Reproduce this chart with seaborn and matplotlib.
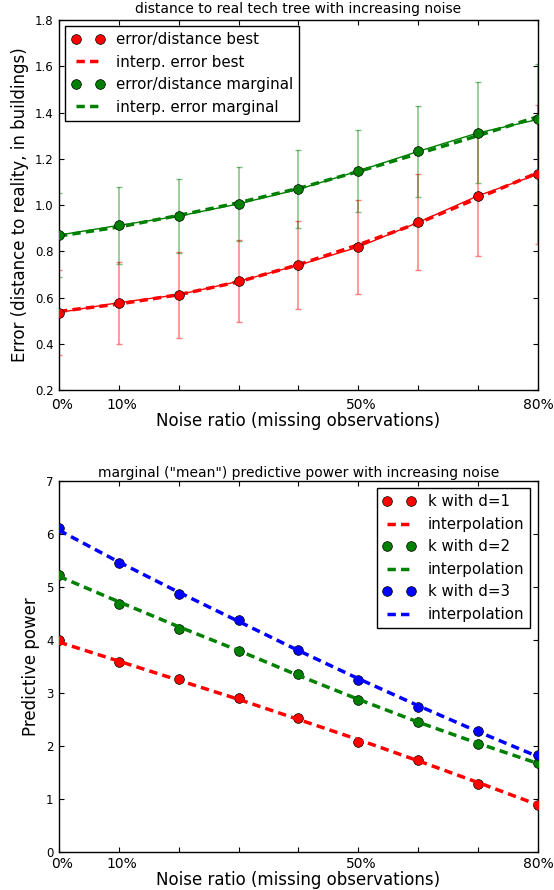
import numpy as np
import pandas as pd
import matplotlib
matplotlib.use("Agg")
import matplotlib.pyplot as plt
import matplotlib.transforms as mtransforms
import seaborn as sns
from matplotlib.lines import Line2D

# ---------------- data ----------------
noise = [0.0, 0.1, 0.2, 0.3, 0.4, 0.5, 0.6, 0.7, 0.8]
xtick_labels = ["0%", "10%", "", "", "", "50%", "", "", "80%"]

best_err = [0.535, 0.578, 0.612, 0.670, 0.740, 0.818, 0.925, 1.040, 1.133]
best_sd = [0.185, 0.177, 0.185, 0.177, 0.190, 0.205, 0.207, 0.260, 0.300]
best_interp = [0.540, 0.572, 0.612, 0.668, 0.742, 0.828, 0.922, 1.030, 1.140]

marg_err = [0.870, 0.912, 0.952, 1.005, 1.068, 1.147, 1.232, 1.312, 1.370]
marg_sd = [0.180, 0.165, 0.160, 0.160, 0.168, 0.178, 0.197, 0.218, 0.240]
marg_interp = [0.866, 0.905, 0.955, 1.010, 1.072, 1.145, 1.222, 1.300, 1.382]

k_d1 = [4.00, 3.58, 3.27, 2.90, 2.52, 2.08, 1.73, 1.29, 0.88]
k_d1_interp = [3.96, 3.60, 3.24, 2.88, 2.50, 2.12, 1.72, 1.31, 0.89]
k_d2 = [5.23, 4.68, 4.21, 3.80, 3.35, 2.86, 2.45, 2.04, 1.68]
k_d2_interp = [5.20, 4.72, 4.25, 3.80, 3.33, 2.88, 2.45, 2.05, 1.67]
k_d3 = [6.12, 5.45, 4.87, 4.37, 3.81, 3.24, 2.73, 2.28, 1.83]
k_d3_interp = [6.07, 5.47, 4.90, 4.35, 3.80, 3.27, 2.76, 2.27, 1.80]

top_title = "distance to real tech tree with increasing noise"
bottom_title = 'marginal ("mean") predictive power with increasing noise'
xlabel = "Noise ratio (missing observations)"
top_ylabel = "Error (distance to reality, in buildings)"
bottom_ylabel = "Predictive power"

RED, GREEN, BLUE = "#ff0000", "#008000", "#0000ff"

# ---------------- style ----------------
sns.set_style("ticks")
plt.rcParams.update({
    "font.family": ["DejaVu Sans"],
    "axes.edgecolor": "black",
    "axes.linewidth": 1.0,
    "text.color": "black",
    "axes.labelcolor": "black",
    "xtick.color": "black",
    "ytick.color": "black",
    "xtick.direction": "in",
    "ytick.direction": "in",
    "xtick.top": True,
    "ytick.right": True,
    "xtick.major.size": 3.5,
    "ytick.major.size": 3.5,
    "xtick.major.width": 0.8,
    "ytick.major.width": 0.8,
    "xtick.labelsize": 10,
    "ytick.labelsize": 8.5,
    "ytick.major.pad": 4,
    "axes.labelsize": 12,
    "lines.dashed_pattern": [2.4, 1.5],
    "legend.fancybox": False,
    "legend.edgecolor": "black",
    "legend.framealpha": 1.0,
})

fig = plt.figure(figsize=(5.54, 8.9), dpi=100)
ax1 = fig.add_axes([0.1065, 0.5618, 0.8646, 0.4157])
ax2 = fig.add_axes([0.1065, 0.0427, 0.8646, 0.4169])

df_top = pd.DataFrame({"noise": noise, "best": best_err, "best_sd": best_sd,
                       "best_interp": best_interp, "marg": marg_err,
                       "marg_sd": marg_sd, "marg_interp": marg_interp})

MS = 7
LEG_FS = 10.8
for col, sdcol, icol, color in [("best", "best_sd", "best_interp", RED),
                                ("marg", "marg_sd", "marg_interp", GREEN)]:
    ax1.errorbar(df_top["noise"], df_top[col], yerr=df_top[sdcol], fmt="none",
                 ecolor=color, alpha=0.5, capsize=2, elinewidth=1.1, zorder=2)
    sns.lineplot(data=df_top, x="noise", y=col, color=color, lw=1, ax=ax1, zorder=3)
    sns.lineplot(data=df_top, x="noise", y=icol, color=color, lw=2.5,
                 linestyle="--", ax=ax1, zorder=4)
    sns.scatterplot(data=df_top, x="noise", y=col, color=color, s=MS**2,
                    edgecolor="black", linewidth=0.5, ax=ax1, zorder=5)


def shift_labels(ax):
    offset = mtransforms.ScaledTranslation(3 / 100, 0, fig.dpi_scale_trans)
    for lab in ax.get_xticklabels()[:6]:
        lab.set_transform(lab.get_transform() + offset)


ax1.set_xlim(0, 0.8)
ax1.set_ylim(0.2, 1.8)
ax1.set_yticks(np.arange(0.2, 1.81, 0.2))
ax1.set_yticklabels([f"{v:.1f}" for v in np.arange(0.2, 1.81, 0.2)])
ax1.set_xticks(noise)
ax1.set_xticklabels(xtick_labels)
ax1.tick_params(axis="x", pad=5.5)
shift_labels(ax1)
ax1.set_title(top_title, fontsize=10, pad=5)
ax1.set_xlabel(xlabel, labelpad=0)
ax1.set_ylabel(top_ylabel)

h_top = [
    Line2D([], [], ls="none", marker="o", ms=MS, mfc=RED, mec="black", mew=0.5),
    Line2D([], [], ls="--", color=RED, lw=2.5),
    Line2D([], [], ls="none", marker="o", ms=MS, mfc=GREEN, mec="black", mew=0.5),
    Line2D([], [], ls="--", color=GREEN, lw=2.5),
]
leg1 = ax1.legend(h_top, ["error/distance best", "interp. error best",
                          "error/distance marginal", "interp. error marginal"],
                  loc="upper left", fontsize=LEG_FS, numpoints=2, borderaxespad=0.4,
                  handlelength=2.2)
leg1.get_frame().set_linewidth(1.0)

df_bot = pd.DataFrame({"noise": noise, "d1": k_d1, "d1i": k_d1_interp,
                       "d2": k_d2, "d2i": k_d2_interp, "d3": k_d3, "d3i": k_d3_interp})
for col, icol, color in [("d1", "d1i", RED), ("d2", "d2i", GREEN), ("d3", "d3i", BLUE)]:
    sns.lineplot(data=df_bot, x="noise", y=icol, color=color, lw=2.5,
                 linestyle="--", ax=ax2, zorder=4)
    sns.scatterplot(data=df_bot, x="noise", y=col, color=color, s=MS**2,
                    edgecolor="black", linewidth=0.5, ax=ax2, zorder=3)

ax2.set_xlim(0, 0.8)
ax2.set_ylim(0, 7)
ax2.set_yticks(range(0, 8))
ax2.set_xticks(noise)
ax2.set_xticklabels(xtick_labels)
ax2.tick_params(axis="x", pad=3.5)
shift_labels(ax2)
ax2.set_title(bottom_title, fontsize=10, pad=2.5)
ax2.set_xlabel(xlabel, labelpad=0)
ax2.set_ylabel(bottom_ylabel)

h_bot = []
for color in (RED, GREEN, BLUE):
    h_bot.append(Line2D([], [], ls="none", marker="o", ms=MS, mfc=color, mec="black", mew=0.5))
    h_bot.append(Line2D([], [], ls="--", color=color, lw=2.5))
leg2 = ax2.legend(h_bot, ["k with d=1", "interpolation", "k with d=2",
                          "interpolation", "k with d=3", "interpolation"],
                  loc="upper right", fontsize=LEG_FS, numpoints=2, handlelength=2.2)
leg2.get_frame().set_linewidth(1.0)

fig.savefig("out.png", dpi=100)
